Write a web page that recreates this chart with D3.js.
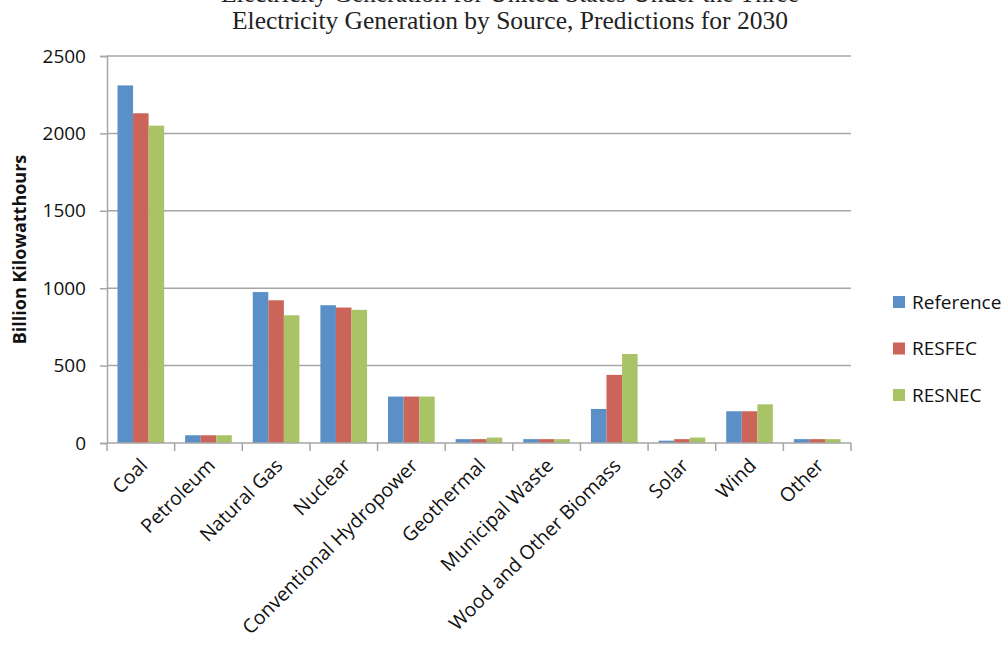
<!DOCTYPE html>
<html>
<head>
<meta charset="utf-8">
<script src="https://cdn.jsdelivr.net/npm/d3@7"></script>
<style>
  body { margin: 0; background: #fff; }
  svg { display: block; }
</style>
</head>
<body>
<div id="view"></div>
<script>
var categories = ["Coal", "Petroleum", "Natural Gas", "Nuclear", "Conventional Hydropower",
    "Geothermal", "Municipal Waste", "Wood and Other Biomass", "Solar", "Wind", "Other"];
var seriesNames = ["Reference", "RESFEC", "RESNEC"];
var reference = [2310, 50, 975, 890, 300, 25, 25, 220, 15, 205, 25];
var resfec    = [2130, 50, 922, 875, 300, 25, 25, 440, 25, 205, 25];
var resnec    = [2050, 50, 825, 860, 300, 35, 25, 575, 35, 250, 25];
var yTicks = [0, 500, 1000, 1500, 2000, 2500];
var colors = ["#5b8fc8", "#cb6559", "#a9c467"];

var width = 1008, height = 645;
var margin = {top: 56, right: 157, bottom: 202, left: 107};
var sans = "'Open Sans', 'Liberation Sans', sans-serif";

var svg = d3.select("#view")
    .append("svg")
    .attr("width", width)
    .attr("height", height);

var data = categories.map(function(c, i) {
    return {cat: c, values: [reference[i], resfec[i], resnec[i]]};
});

var x0 = d3.scaleBand()
    .domain(categories)
    .range([margin.left, width - margin.right])
    .paddingInner(0.31)
    .paddingOuter(0.155);

var x1 = d3.scaleBand()
    .domain(d3.range(seriesNames.length))
    .range([0, x0.bandwidth()]);

var y = d3.scaleLinear()
    .domain([0, 2500])
    .range([height - margin.bottom, margin.top]);

// gridlines
svg.append("g")
    .selectAll("line")
    .data(yTicks.slice(1))
    .enter().append("line")
    .attr("x1", margin.left)
    .attr("x2", width - margin.right)
    .attr("y1", function(d) { return y(d); })
    .attr("y2", function(d) { return y(d); })
    .attr("stroke", "#a6a6a6")
    .attr("stroke-width", 1.5);

// bars
svg.append("g")
    .selectAll("g")
    .data(data)
    .enter().append("g")
    .attr("transform", function(d) { return "translate(" + x0(d.cat) + ",0)"; })
    .selectAll("rect")
    .data(function(d) { return d.values; })
    .enter().append("rect")
    .attr("x", function(d, i) { return x1(i); })
    .attr("width", x1.bandwidth())
    .attr("y", function(d) { return y(d); })
    .attr("height", function(d) { return y(0) - y(d); })
    .attr("fill", function(d, i) { return colors[i]; });

// y axis
var yAxis = svg.append("g")
    .attr("transform", "translate(" + margin.left + ",0)")
    .call(d3.axisLeft(y).tickValues(yTicks).tickFormat(d3.format("d")).tickSize(7).tickPadding(14));
yAxis.selectAll("line").attr("stroke", "#a6a6a6").attr("stroke-width", 1.5);
yAxis.select(".domain").attr("stroke", "#a6a6a6").attr("stroke-width", 1.5);
yAxis.selectAll("text")
    .attr("font-family", sans)
    .attr("font-size", 19)
    .attr("fill", "#111");

// x axis
var xStep = x0.step();
var xAxis = svg.append("g")
    .attr("transform", "translate(0," + y(0) + ")");
xAxis.append("line")
    .attr("x1", margin.left)
    .attr("x2", width - margin.right)
    .attr("stroke", "#a6a6a6")
    .attr("stroke-width", 1.5);
xAxis.selectAll(".tick")
    .data(d3.range(categories.length + 1))
    .enter().append("line")
    .attr("x1", function(d) { return margin.left + d * xStep; })
    .attr("x2", function(d) { return margin.left + d * xStep; })
    .attr("y1", 0)
    .attr("y2", 8)
    .attr("stroke", "#a6a6a6")
    .attr("stroke-width", 1.5);
xAxis.selectAll("text")
    .data(categories)
    .enter().append("text")
    .attr("transform", function(d) {
        return "translate(" + (x0(d) + x0.bandwidth() / 2 + 3) + ",19) rotate(-45)";
    })
    .attr("text-anchor", "end")
    .attr("dy", "0.35em")
    .attr("font-family", sans)
    .attr("font-size", 19.5)
    .attr("fill", "#111")
    .text(function(d) { return d; });

// y label
svg.append("text")
    .attr("transform", "translate(26," + ((y(0) + y(2500)) / 2) + ") rotate(-90)")
    .attr("text-anchor", "middle")
    .attr("font-family", sans)
    .attr("font-weight", "bold")
    .attr("font-size", 18)
    .attr("fill", "#111")
    .text("Billion Kilowatthours");

// title (first line is cut off at the top edge, as in the source image)
svg.append("text")
    .attr("x", 510)
    .attr("y", 2)
    .attr("text-anchor", "middle")
    .attr("font-family", "'Liberation Serif', 'DejaVu Serif', serif")
    .attr("font-size", 25.5)
    .attr("fill", "#222")
    .text("Electricity Generation for United States Under the Three");
svg.append("text")
    .attr("x", 510)
    .attr("y", 29)
    .attr("text-anchor", "middle")
    .attr("font-family", "'Liberation Serif', 'DejaVu Serif', serif")
    .attr("font-size", 25.5)
    .attr("fill", "#222")
    .text("Electricity Generation by Source, Predictions for 2030");

// legend
var legend = svg.append("g")
    .selectAll("g")
    .data(seriesNames)
    .enter().append("g")
    .attr("transform", function(d, i) { return "translate(893," + (296 + i * 46.5) + ")"; });
legend.append("rect")
    .attr("width", 12)
    .attr("height", 12)
    .attr("fill", function(d, i) { return colors[i]; });
legend.append("text")
    .attr("x", 19)
    .attr("y", 6)
    .attr("dy", "0.35em")
    .attr("font-family", sans)
    .attr("font-size", 19)
    .attr("fill", "#111")
    .text(function(d) { return d; });
</script>
</body>
</html>
